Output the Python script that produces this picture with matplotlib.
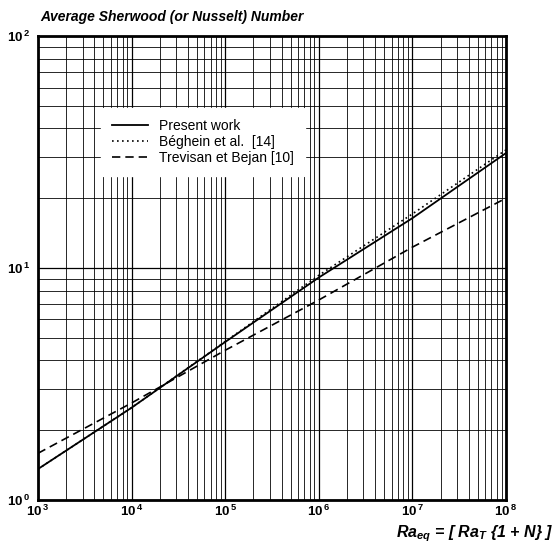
import matplotlib
matplotlib.use("Agg")
import matplotlib.pyplot as plt
import numpy as np
from matplotlib.ticker import LogLocator, FuncFormatter, NullFormatter

plt.rcParams['font.family'] = ['Liberation Sans', 'DejaVu Sans']
plt.rcParams['mathtext.fontset'] = 'custom'
plt.rcParams['mathtext.rm'] = 'Liberation Sans:bold'
plt.rcParams['mathtext.it'] = 'Liberation Sans:bold:italic'
plt.rcParams['mathtext.bf'] = 'Liberation Sans:bold'

# values
ra = [1e3, 1e4, 1e5, 1e6, 1e7, 1e8]
sh_present = [1.36, 2.5, 4.8, 9.1, 16.4, 31.3]
sh_beghein = [1.36, 2.5, 4.82, 9.3, 17.1, 32.3]
sh_trevisan = [1.59, 2.62, 4.42, 7.28, 12.3, 20.0]
labels = ["Present work", "Béghein et al.  [14]", "Trevisan et Bejan [10]"]

fig = plt.figure(figsize=(5.56, 5.46), dpi=100)
ax = fig.add_axes([0.0683, 0.0842, 0.8417, 0.8498])

ax.plot(ra, sh_present, color='black', lw=1.3, ls='-', label=labels[0])
ax.plot(ra, sh_beghein, color='black', lw=1.2, ls=(0, (1, 2)), label=labels[1])
ax.plot(ra, sh_trevisan, color='black', lw=1.2, ls=(0, (5, 3)), label=labels[2])

ax.set_xscale('log')
ax.set_yscale('log')
ax.set_xlim(1e3, 1e8)
ax.set_ylim(1, 100)

ax.xaxis.set_minor_locator(LogLocator(base=10, subs=np.arange(2, 10)))
ax.yaxis.set_minor_locator(LogLocator(base=10, subs=np.arange(2, 10)))
ax.xaxis.set_minor_formatter(NullFormatter())
ax.yaxis.set_minor_formatter(NullFormatter())
fmt = FuncFormatter(lambda v, p: r'$\mathbf{10^{\,%d}}$' % round(np.log10(v)))
ax.xaxis.set_major_formatter(fmt)
ax.yaxis.set_major_formatter(fmt)
ax.tick_params(which='both', length=0, labelsize=9.5)
ax.tick_params(axis='x', pad=3)
ax.tick_params(axis='y', pad=6)

ax.grid(True, which='major', color='black', lw=0.9)
ax.grid(True, which='minor', color='black', lw=0.7, alpha=0.85)
ax.set_axisbelow(True)
for s in ax.spines.values():
    s.set_linewidth(2)

leg = ax.legend(loc='upper left', bbox_to_anchor=(0.12, 0.86), frameon=True,
                fontsize=10, handlelength=2.6, handletextpad=0.8,
                labelspacing=0.15, borderpad=0.8)
leg.get_frame().set_edgecolor('white')
leg.get_frame().set_facecolor('white')
leg.get_frame().set_alpha(1)

fig.text(0.072, 0.962, "Average Sherwood (or Nusselt) Number",
         fontsize=10, fontweight='bold', fontstyle='italic')
fig.text(0.995, 0.003, r'$Ra_{eq}$ = [ $Ra_T$ {1 + N} ]',
         fontsize=11.5, fontweight='bold', fontstyle='italic', ha='right', va='bottom')

fig.savefig('out.png', dpi=100)
